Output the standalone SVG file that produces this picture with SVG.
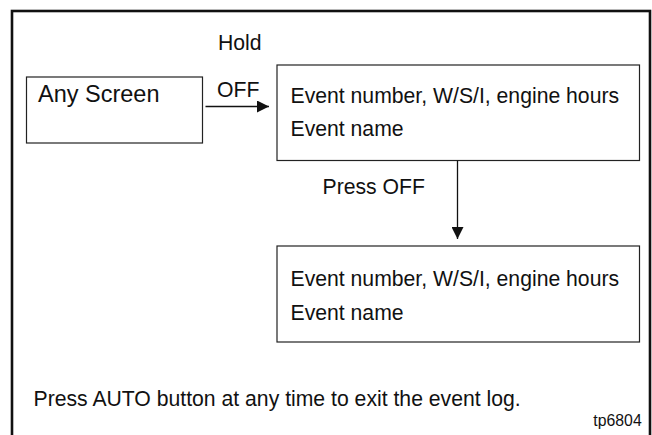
<svg xmlns="http://www.w3.org/2000/svg" width="652" height="435" viewBox="0 0 652 435">
  <defs>
    <style>
      .frame { fill: none; stroke: #111; stroke-width: 2.6; }
      .box { fill: #fff; stroke: #222; stroke-width: 1.2; }
      .t { font-family: "Liberation Sans", Arial, sans-serif; font-size: 21.2px; fill: #111; }
      .big { font-size: 23.5px; }
      .small { font-size: 15.8px; }
      .conn { stroke: #111; stroke-width: 1.3; fill: none; }
    </style>
    <marker id="arrow" viewBox="0 0 12 12" markerWidth="12" markerHeight="12" refX="12" refY="6" orient="auto" markerUnits="userSpaceOnUse">
      <path d="M0,0 L12,6 L0,12 Z" fill="#111"/>
    </marker>
  </defs>
  <rect x="0" y="0" width="652" height="435" fill="#fff"/>
  <rect class="frame" x="12" y="11" width="638" height="440"/>

  <g id="any-screen">
    <rect class="box" x="26.5" y="77" width="176" height="66"/>
    <text class="t big" x="38" y="102">Any Screen</text>
  </g>

  <g id="event-1">
    <rect class="box" x="277" y="65" width="362.5" height="95.5"/>
    <text class="t" x="290.5" y="103">Event number, W/S/I, engine hours</text>
    <text class="t" x="290.5" y="136">Event name</text>
  </g>

  <g id="event-2">
    <rect class="box" x="277" y="246" width="362.5" height="96"/>
    <text class="t" x="290.5" y="286">Event number, W/S/I, engine hours</text>
    <text class="t" x="290.5" y="320">Event name</text>
  </g>

  <g id="connectors">
    <line class="conn" x1="205.5" y1="106.5" x2="269" y2="106.5" marker-end="url(#arrow)"/>
    <line class="conn" x1="457.5" y1="160.5" x2="457.5" y2="239" marker-end="url(#arrow)"/>
    <text class="t" x="218" y="50">Hold</text>
    <text class="t" x="217" y="97">OFF</text>
    <text class="t" x="322.5" y="194">Press OFF</text>
  </g>

  <g id="notes">
    <text class="t" x="33.5" y="406">Press AUTO button at any time to exit the event log.</text>
    <text class="t small" x="641.7" y="425.5" text-anchor="end">tp6804</text>
  </g>
</svg>
